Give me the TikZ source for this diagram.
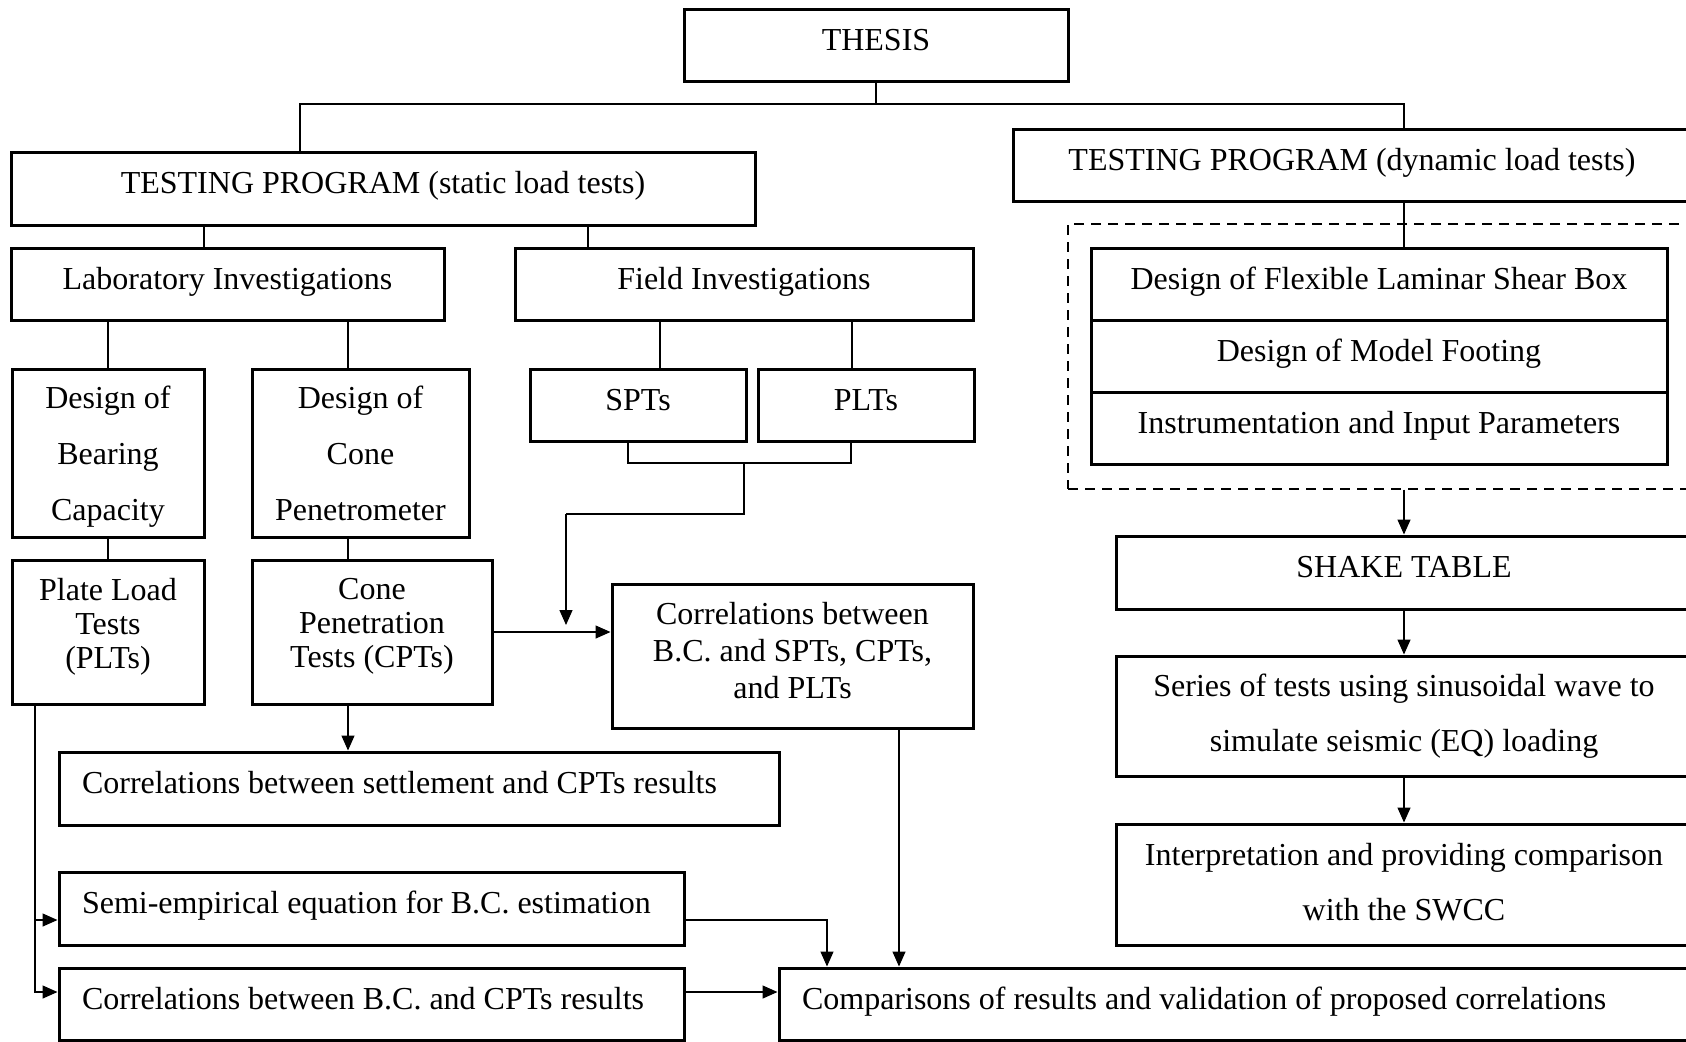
\documentclass[tikz,border=0pt]{standalone}
\usepackage{fontspec}
\setmainfont{Liberation Serif}
\usetikzlibrary{arrows.meta}
\newcommand\fsz[1]{\fontsize{16pt}{#1pt}\selectfont}
\begin{document}
\begin{tikzpicture}[x=0.5pt,y=-0.5pt,
  box/.style={draw, line width=1.5pt, inner sep=0pt, align=center, font=\fsz{18}},
  sz/.style 2 args={minimum width=#1*0.5pt, minimum height=#2*0.5pt},
  one/.style={text height=11pt, text depth=6pt},
  leftbox/.style={box, one, align=flush left, inner xsep=11.5pt, text width=#1},
  conn/.style={line width=0.65pt},
  arr/.style={conn, -{Triangle[length=7.5pt,width=6.5pt]}},
  grpbox/.style={draw, line width=0.65pt, dash pattern=on 5pt off 3.5pt, inner sep=0pt}]
\clip (0,0) rectangle (1686,1041);
\useasboundingbox (0,0) rectangle (1686,1041);

% top level
\node[box, one, sz={384}{72}] (thesis) at (876,45) {THESIS};
\node[box, one, sz={744}{73}] (static) at (383,188.5) {TESTING PROGRAM (static load tests)};
\node[box, one, sz={678}{72}] (dynamic) at (1352,165) {TESTING PROGRAM (dynamic load tests)};

% static branch
\node[box, one, sz={433}{72}] (lab) at (227.5,284) {Laboratory Investigations};
\node[box, one, sz={458}{72}] (field) at (744,284) {Field Investigations};
\node[box, font=\fsz{28}, text depth=0pt, sz={192}{168}] (bear) at (108,453) {Design of\\Bearing\\Capacity};
\node[box, font=\fsz{28}, text depth=0pt, sz={217}{168}] (conedes) at (360.5,453) {Design of\\Cone\\Penetrometer};
\node[box, one, sz={216}{72}] (spt) at (638,405) {SPTs};
\node[box, one, sz={216}{72}] (plt) at (866,405) {PLTs};
\node[box, font=\fsz{17}, text depth=8.7pt, sz={192}{144}] (plate) at (108,632) {Plate Load\\Tests\\(PLTs)};
\node[box, font=\fsz{17}, text depth=8.7pt, sz={240}{144}] (conepen) at (372,632) {Cone\\Penetration\\Tests (CPTs)};
\node[box, font=\fsz{18.5}, text depth=5.4pt, sz={361}{144}] (corrbc) at (792.5,656) {Correlations between\\B.C. and SPTs, CPTs,\\and PLTs};
\node[leftbox=337pt, sz={720}{73}] (settle) at (419,788.5) {Correlations between settlement and CPTs results};
\node[leftbox=289.5pt, sz={625}{73}] (semi) at (371.5,908.5) {Semi-empirical equation for B.C. estimation};
\node[leftbox=289.5pt, sz={625}{72}] (bccpt) at (371.5,1004) {Correlations between B.C. and CPTs results};
\node[leftbox=437.5pt, sz={921}{72}] (comp) at (1239.5,1004) {Comparisons of results and validation of proposed correlations};

% dynamic branch
\node[grpbox, sz={632}{265}] (grp) at (1384,356.5) {};
\node[box, one, sz={576}{72}] (flex) at (1379,284) {Design of Flexible Laminar Shear Box};
\node[box, one, sz={576}{72}] (model) at (1379,356) {Design of Model Footing};
\node[box, one, sz={576}{72}] (instr) at (1379,428) {Instrumentation and Input Parameters};
\node[box, one, sz={576}{73}] (shake) at (1404,572.5) {SHAKE TABLE};
\node[box, font=\fsz{27.5}, text depth=3.4pt, sz={576}{120}] (series) at (1404,716) {Series of tests using sinusoidal wave to\\simulate seismic (EQ) loading};
\node[box, font=\fsz{27.5}, text depth=2.2pt, sz={576}{121}] (interp) at (1404,884.5) {Interpretation and providing comparison\\with the SWCC};

% junction points of the connectors
\coordinate (hL) at (300,104);
\coordinate (hR) at (1404,104);
\coordinate (s1) at (204,0);
\coordinate (s2) at (588,0);
\coordinate (l2) at (348,0);
\coordinate (f1) at (660,0);
\coordinate (f2) at (852,0);
\coordinate (bl) at (628,463);
\coordinate (br) at (851,463);
\coordinate (bm) at (744,463);
\coordinate (bk) at (744,514);
\coordinate (bn) at (566,514);
\coordinate (bt) at (566,625);
\coordinate (pa) at (35,920);
\coordinate (pb) at (35,992);
\coordinate (sc) at (827,920);
\coordinate (xb) at (899,0);

% tree connectors
\draw[conn] (thesis.south) -- (thesis.south |- hL);
\draw[conn] (static.north -| hL) -- (hL) -- (hR) -- (dynamic.north -| hR);
\draw[conn] (static.south -| s1) -- (lab.north -| s1);
\draw[conn] (static.south -| s2) -- (field.north -| s2);
\draw[conn] (dynamic.south -| hR) -- (flex.north -| hR);
\draw[conn] (lab.south -| bear.north) -- (bear.north);
\draw[conn] (lab.south -| l2) -- (conedes.north -| l2);
\draw[conn] (field.south -| f1) -- (spt.north -| f1);
\draw[conn] (field.south -| f2) -- (plt.north -| f2);
\draw[conn] (bear.south) -- (plate.north -| bear.south);
\draw[conn] (conedes.south -| l2) -- (conepen.north -| l2);

% SPT / PLT bracket and arrow
\draw[conn] (spt.south -| bl) -- (bl) -- (br) -- (plt.south -| br);
\draw[conn] (bm) -- (bk) -- (bn);
\draw[arr] (bn) -- (bt);

% result arrows
\draw[arr] (conepen.east) -- (corrbc.west |- conepen.east);
\draw[arr] (conepen.south -| l2) -- (settle.north -| l2);
\draw[conn] (plate.south -| pa) -- (pa);
\draw[arr] (pa) -- (pb) -- (bccpt.west |- pb);
\draw[arr] (pa) -- (semi.west |- pa);
\draw[arr] (semi.east |- sc) -- (sc) -- (comp.north -| sc);
\draw[arr] (corrbc.south -| xb) -- (comp.north -| xb);
\draw[arr] (bccpt.east |- pb) -- (comp.west |- pb);

% shake table chain
\draw[arr] (shake.north |- grp.south) -- (shake.north);
\draw[arr] (shake.south) -- (series.north);
\draw[arr] (series.south) -- (interp.north);
\end{tikzpicture}
\end{document}
